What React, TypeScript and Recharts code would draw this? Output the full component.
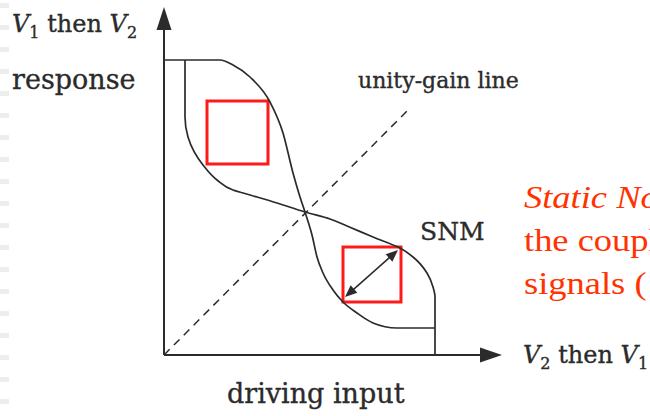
import { LineChart, Line, XAxis, YAxis, ReferenceLine, ReferenceArea } from "recharts";

// butterfly curves, units = px of the plot area (origin at the axes corner)
const curveA = [
  { x: 0, y: 295 }, { x: 56, y: 295 }, { x: 69, y: 290 }, { x: 86, y: 278 },
  { x: 106, y: 253 }, { x: 119, y: 222 }, { x: 129, y: 182 }, { x: 136, y: 158 },
  { x: 141, y: 143 }, { x: 148, y: 120 }, { x: 153, y: 98 }, { x: 159, y: 82 },
  { x: 169, y: 65 }, { x: 179, y: 53 }, { x: 193, y: 42 }, { x: 209, y: 32 },
  { x: 233, y: 27 }, { x: 271, y: 27 },
];

const curveB = [
  { x: 21, y: 295 }, { x: 21, y: 238 }, { x: 24, y: 218 }, { x: 39, y: 190 },
  { x: 53, y: 175 }, { x: 69, y: 165 }, { x: 86, y: 160 }, { x: 113, y: 152 },
  { x: 141, y: 143 }, { x: 166, y: 136 }, { x: 183, y: 129 }, { x: 209, y: 118 },
  { x: 236, y: 107 }, { x: 249, y: 98 }, { x: 263, y: 82 }, { x: 269, y: 68 },
  { x: 271, y: 58 }, { x: 271, y: 0 },
];

const unityGain = [{ x: 0, y: 0 }, { x: 244, y: 245 }];

const snmBoxes = [
  { x1: 43, x2: 104, y1: 191, y2: 254 },
  { x1: 179, x2: 237, y1: 53, y2: 108 },
];

const snmArrow = [{ x: 181, y: 58 }, { x: 234, y: 105 }];

const xAxisEnd = 338;
const yAxisEnd = 348;

const INK = "#2b2b2b";
const RED = "#ff1a1a";
const TEXT_RED = "#ff3300";

const Arrow = (p: any) => {
  const { x1, y1, x2, y2, head, wide, both, sw } = p;
  const dx = x2 - x1;
  const dy = y2 - y1;
  const len = Math.sqrt(dx * dx + dy * dy) || 1;
  const ux = dx / len;
  const uy = dy / len;
  const nx = -uy;
  const ny = ux;
  const tip = (tx: number, ty: number, dir: number) => {
    const bx = tx - dir * ux * head;
    const by = ty - dir * uy * head;
    return `${tx},${ty} ${bx + nx * wide / 2},${by + ny * wide / 2} ${bx - nx * wide / 2},${by - ny * wide / 2}`;
  };
  const sx = both ? x1 + ux * head * 0.8 : x1;
  const sy = both ? y1 + uy * head * 0.8 : y1;
  return (
    <g>
      <line x1={sx} y1={sy} x2={x2 - ux * head * 0.8} y2={y2 - uy * head * 0.8} stroke={INK} strokeWidth={sw} />
      <polygon points={tip(x2, y2, 1)} fill={INK} />
      {both && <polygon points={tip(x1, y1, -1)} fill={INK} />}
    </g>
  );
};

const serif = "'DejaVu Serif', serif";

export default function App() {
  return (
    <div style={{ position: "absolute", left: 0, top: 0, width: 650, height: 416, background: "#fff", overflow: "hidden" }}>
      {Array.from({ length: 19 }).map((_, i) => (
        <div key={i} style={{ position: "absolute", left: 0, top: 3 + i * 22, width: 9, height: 5, background: "#ededed" }} />
      ))}
      <div style={{ position: "absolute", left: 0, top: 0 }}>
        <LineChart width={650} height={416} margin={{ top: 5, right: 146, bottom: 61, left: 164 }}>
          <XAxis dataKey="x" type="number" domain={[0, 340]} hide allowDataOverflow />
          <YAxis dataKey="y" type="number" domain={[0, 350]} hide allowDataOverflow />
          <Line data={unityGain} dataKey="y" type="linear" stroke={INK} strokeWidth={1.5} strokeDasharray="8 6" dot={false} isAnimationActive={false} />
          <Line data={curveA} dataKey="y" type="monotoneX" stroke={INK} strokeWidth={1.7} dot={false} isAnimationActive={false} />
          <Line data={curveB} dataKey="y" type="monotoneY" stroke={INK} strokeWidth={1.7} dot={false} isAnimationActive={false} />
          {snmBoxes.map((b, i) => (
            <ReferenceArea key={i} x1={b.x1} x2={b.x2} y1={b.y1} y2={b.y2} fill="none" stroke={RED} strokeWidth={3} ifOverflow="visible" />
          ))}
          <ReferenceLine
            segment={[{ x: 0, y: 0 }, { x: 0, y: yAxisEnd }]}
            ifOverflow="visible"
            shape={(p: any) => <Arrow {...p} head={23} wide={15} both={false} sw={2} />}
          />
          <ReferenceLine
            segment={[{ x: 0, y: 0 }, { x: xAxisEnd, y: 0 }]}
            ifOverflow="visible"
            shape={(p: any) => <Arrow {...p} head={22} wide={15} both={false} sw={2} />}
          />
          <ReferenceLine
            segment={snmArrow}
            ifOverflow="visible"
            shape={(p: any) => <Arrow {...p} head={12} wide={10} both={true} sw={1.5} />}
          />
        </LineChart>
      </div>
      <svg width={650} height={416} style={{ position: "absolute", left: 0, top: 0, pointerEvents: "none" }}>
        <g fontFamily={serif} fill={INK} stroke={INK} strokeWidth={0.35}>
          <text x={12} y={32} fontSize={24}>
            <tspan fontStyle="italic">V</tspan>
            <tspan fontSize={16} dy={6}>1</tspan>
            <tspan dy={-6}> then </tspan>
            <tspan fontStyle="italic">V</tspan>
            <tspan fontSize={16} dy={6}>2</tspan>
          </text>
          <text x={12} y={89} fontSize={27}>response</text>
          <text x={358} y={88} fontSize={22}>unity-gain line</text>
          <text x={420} y={240} fontSize={25}>SNM</text>
          <text x={227} y={403} fontSize={27}>driving input</text>
          <text x={523} y={363} fontSize={24}>
            <tspan fontStyle="italic">V</tspan>
            <tspan fontSize={16} dy={6}>2</tspan>
            <tspan dy={-6}> then </tspan>
            <tspan fontStyle="italic">V</tspan>
            <tspan fontSize={16} dy={6}>1</tspan>
          </text>
        </g>
        <g fontFamily="'Liberation Serif', 'Times New Roman', serif" fontSize={32} fill={TEXT_RED}>
          <text transform="translate(524,208) scale(1.14,1)" fontStyle="italic">Static Noise Margin</text>
          <text transform="translate(524,251) scale(1.14,1)">the coupled</text>
          <text transform="translate(524,294) scale(1.14,1)">signals (</text>
        </g>
      </svg>
    </div>
  );
}
